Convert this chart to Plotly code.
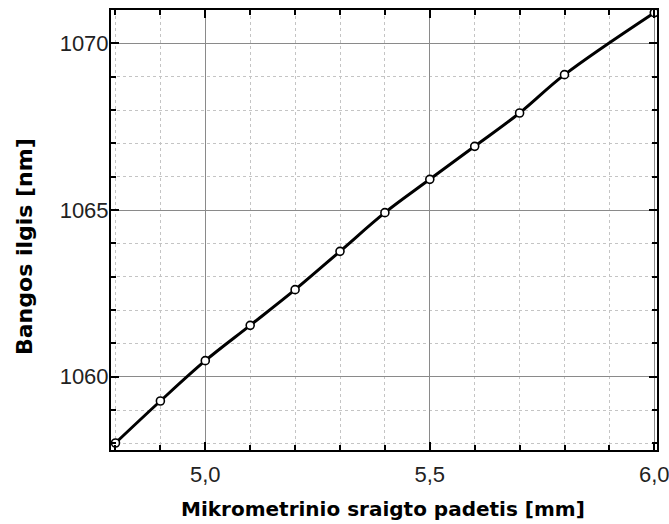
import plotly.graph_objects as go

positions_mm = [4.8, 4.9, 5.0, 5.1, 5.2, 5.3, 5.4, 5.5, 5.6, 5.7, 5.8, 6.0]
wavelength_nm = [1058.01, 1059.27, 1060.48, 1061.54, 1062.61, 1063.76,
                 1064.92, 1065.92, 1066.91, 1067.91, 1069.06, 1070.92]

x_tick_vals = [5.0, 5.5, 6.0]
x_tick_text = ["5,0", "5,5", "6,0"]
y_tick_vals = [1060, 1065, 1070]

x_title = "Mikrometrinio sraigto padetis [mm]"
y_title = "Bangos ilgis [nm]"

fig = go.Figure()
fig.add_trace(go.Scatter(
    x=positions_mm, y=wavelength_nm,
    mode="lines+markers",
    line=dict(color="black", width=3, shape="spline", smoothing=1.0),
    marker=dict(symbol="circle", size=8, color="white",
                line=dict(color="black", width=1.6)),
    showlegend=False,
))

tick_font = dict(family="Liberation Sans, Arial, sans-serif", size=22, color="#222")
axis_common = dict(
    showline=True, linecolor="black", linewidth=2, mirror="ticks",
    ticks="inside", ticklen=8, tickwidth=2, tickcolor="black",
    showgrid=True, gridcolor="#8a8a8a", gridwidth=1,
    zeroline=False, tickfont=tick_font, ticklabeloverflow="allow",
    automargin=False,
)

fig.update_xaxes(
    range=[4.79, 6.006], tickmode="array", tickvals=x_tick_vals, ticktext=x_tick_text,
    minor=dict(dtick=0.1, tick0=5.0, ticks="inside", ticklen=5, tickwidth=1.5,
               tickcolor="black", showgrid=True, gridcolor="#c4c4c4",
               griddash="dot", gridwidth=1),
    ticklabelstandoff=4,
    **axis_common,
)
fig.update_yaxes(
    range=[1057.8, 1071.0], tickmode="array", tickvals=y_tick_vals,
    minor=dict(dtick=1, tick0=1060, ticks="inside", ticklen=5, tickwidth=1.5,
               tickcolor="black", showgrid=True, gridcolor="#c4c4c4",
               griddash="dot", gridwidth=1),
    ticklabelstandoff=-4,
    **axis_common,
)

fig.add_annotation(text="<b>" + x_title + "</b>", xref="paper", yref="paper",
                   x=0.4984, y=-0.135, xanchor="center", yanchor="middle",
                   showarrow=False,
                   font=dict(family="DejaVu Sans, Arial, sans-serif", size=20, color="black"))
fig.add_annotation(text="<b>" + y_title + "</b>", xref="paper", yref="paper",
                   x=-0.185, y=0.4625, xanchor="left", yanchor="middle",
                   textangle=-90, showarrow=False,
                   font=dict(family="DejaVu Sans, Arial, sans-serif", size=22, color="black"))

fig.update_layout(
    width=669, height=524,
    margin=dict(l=111, r=12, t=10, b=74, autoexpand=False),
    plot_bgcolor="white", paper_bgcolor="white",
)

fig.write_html("out.html")
